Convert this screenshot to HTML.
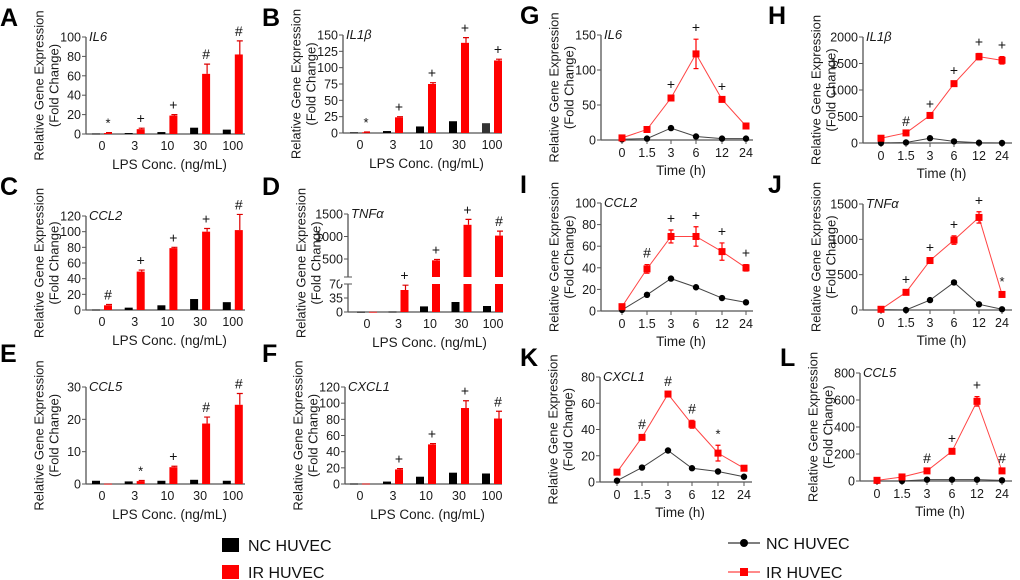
<!DOCTYPE html>
<html><head><meta charset="utf-8"><style>
html,body{margin:0;padding:0;background:#fff;}
svg{display:block;font-family:"Liberation Sans",Arial,sans-serif;}
</style></head><body>
<svg id="fig" width="1020" height="580" viewBox="0 0 1020 580" xmlns="http://www.w3.org/2000/svg">
<g>
<rect x="222" y="538" width="17" height="14" fill="#000"/>
<text x="248" y="551" font-size="16" fill="#111">NC HUVEC</text>
<rect x="222" y="565" width="17" height="14" fill="#f00"/>
<text x="248" y="578" font-size="16" fill="#111">IR HUVEC</text>
</g>
<g>
<line x1="728" y1="543" x2="760" y2="543" stroke="#333" stroke-width="1.2"/>
<circle cx="744" cy="543" r="4" fill="#000"/>
<text x="766" y="549" font-size="16" fill="#111">NC HUVEC</text>
<line x1="728" y1="572" x2="760" y2="572" stroke="#f44" stroke-width="1.2"/>
<rect x="740" y="568" width="8" height="8" fill="#f00"/>
<text x="766" y="578" font-size="16" fill="#111">IR HUVEC</text>
</g>
</svg>
<script>
// ---- data ----
const concCats = ["0","3","10","30","100"];
const timeCats = ["0","1.5","3","6","12","24"];
const aNC=[0.5,1,2,6.5,4.5], aIR=[1,5,19,62,82], aErr=[0.5,1,1,10,14], aSig=["*","+","+","#","#"];
const bNC=[1,3,10,18,15], bIR=[1,24,75,138,111], bErr=[0.5,1,2,8,2], bSig=["*","+","+","+","+"];
const cNC=[0.5,3,6,14,10], cIR=[6,49,79,100,102], cErr=[1,2,1,4,20], cSig=["#","+","+","+","#"];
const dNC=[0.5,1,14,25,15], dIR=[0.5,55,470,1260,1020], dErr=[0,12,20,120,100], dSig=["","+","+","+","#"];
const eNC=[1,0.8,1,1.3,1], eIR=[0.1,0.9,5.2,18.7,24.5], eErr=[0,0.2,0.3,2,3.5], eSig=["","*","+","#","#"];
const fNC=[0.5,3,9,14,13], fIR=[0.5,18,49,94,81], fErr=[0,1,1,9,9], fSig=["","+","+","+","#"];
const gNC=[1,2,17,5,2,2], gIR=[3,15,60,123,58,20], gErr=[0,0,3,21,2,1], gSig=["","","+","+","+",""];
const hNC=[0,10,90,30,5,0], hIR=[90,190,520,1120,1630,1560], hErr=[0,0,0,30,60,70], hSig=["","#","+","+","+","+"];
const iNC=[1,15,30,22,12,8], iIR=[4,39,69,69,55,40], iErr=[1,4,6,9,8,3], iSig=["","#","+","+","+","+"];
const jNC=[5,0,140,390,80,10], jIR=[10,250,700,990,1310,220], jErr=[0,20,20,60,80,20], jSig=["","+","+","+","+","*"];
const kNC=[1,11,24,10.5,8,4], kIR=[7.5,34,67,44,22,10.5], kErr=[0,1,1,3,6,1], kSig=["","#","#","#","*",""];
const lNC=[0,0,10,10,10,5], lIR=[5,30,75,220,590,75], lErr=[0,5,5,10,35,5], lSig=["","","#","+","+","#"];
const aTicks=[0,20,40,60,80,100], bTicks=[0,25,50,75,100,125,150], cTicks=[0,20,40,60,80,100,120];
const dTicksLow=[0,35,70], dTicksHigh=[500,1000,1500];
const eTicks=[0,10,20,30], fTicks=[0,20,40,60,80,100,120];
const gTicks=[0,50,100,150], hTicks=[0,500,1000,1500,2000], iTicks=[0,20,40,60,80,100];
const jTicks=[0,500,1000,1500], kTicks=[0,20,40,60,80], lTicks=[0,200,400,600,800];

const NS="http://www.w3.org/2000/svg";
const svg=document.getElementById('fig');
function mk(tag,attrs,parent){const e=document.createElementNS(NS,tag);for(const k in attrs)e.setAttribute(k,attrs[k]);(parent||svg).appendChild(e);return e;}
function txt(x,y,s,size,anchor,parent,extra){const t=mk('text',Object.assign({x:x,y:y,'font-size':size,'text-anchor':anchor,fill:'#1a1a1a'},extra||{}),parent);t.textContent=s;return t;}

function frame(p,g){
  const L=txt(p.lx,p.ly,p.letter,25,'start',g,{'font-weight':'bold',fill:'#000'});
  
  
  const ya=mk('line',{x1:p.ax,y1:p.yTop,x2:p.ax,y2:p.y0,stroke:'#555','stroke-width':1.3},g);
  
  
  const xa=mk('line',{x1:p.ax,y1:p.y0,x2:p.xEnd,y2:p.y0,stroke:'#555','stroke-width':1.3},g);
  
  
  const cy=(p.yTop+p.y0)/2;
  const t1=txt(p.ax-46,cy,'Relative Gene Expression',13,'middle',g,{transform:`rotate(-90 ${p.ax-46} ${cy})`,'dominant-baseline':'middle'});
  
  
  const t2=txt(p.ax-31,cy,'(Fold Change)',13,'middle',g,{transform:`rotate(-90 ${p.ax-31} ${cy})`,'dominant-baseline':'middle'});
  
  
  const gn=txt(p.ax+3,p.yTop+4,p.gene,13,'start',g,{'font-style':'italic'});
  
  
  const xt=txt((p.ax+p.xEnd)/2+4,p.y0+35,p.xlabel,13.5,'middle',g);
  
  
}
function yTicks(p,g,ticks,ys){
  ticks.forEach(v=>{const y=ys(v);
    const tk=mk('line',{x1:p.ax-4,y1:y,x2:p.ax,y2:y,stroke:'#555'},g);
    
    
    const tl=txt(p.ax-5,y+4.5,String(v),12.5,'end',g);
    
    });
}
function errBar(x,yv,ye,col,g,cap){
  const e=mk('path',{d:`M${x},${yv}V${ye}M${x-cap},${ye}H${x+cap}`,stroke:col,'stroke-width':1.2,fill:'none'},g);
  
  
}
function sig(x,y,s,g){ if(!s)return; const t=txt(x,y,s,s==='*'?13:14,'middle',g,{fill:'#111'});
  
  }

function barPanel(p,nc,ir,err,sg,ticks,ys,clipFn){
  const g=mk('g',{});
  
  
  frame(p,g);
  yTicks(p,g,ticks,ys);
  concCats.forEach((c,i)=>{
    const cx=p.x0+i*p.dx;
    const xl=txt(cx,p.y0+16,c,12.5,'middle',g);
    
    
    const drawBar=(v,x,col,name)=>{
      const segs=clipFn?clipFn(v):[[ys(v),p.y0]];
      segs.forEach(s=>{const r=mk('rect',{x:x-4,y:s[0],width:8,height:Math.max(0.8,s[1]-s[0]),fill:col},g);
        
        });
    };
    drawBar(nc[i],cx-6,p.letter==='B'&&i===4?'#333':'#000','bar-nc-'+c);
    drawBar(ir[i],cx+6,'#f00','bar-ir-'+c);
    const top=ys(ir[i]+err[i]);
    if(err[i]>0)errBar(cx+7,ys(ir[i]),top,'#d00',g,3);
    sig(cx+6,top-5,sg[i],g);
  });
}
function linePanel(p,nc,ir,err,sg,ticks,ys){
  const g=mk('g',{});
  
  
  frame(p,g);
  yTicks(p,g,ticks,ys);
  const xs=i=>p.xs[i];
  timeCats.forEach((c,i)=>{
    const tk=mk('line',{x1:xs(i),y1:p.y0,x2:xs(i),y2:p.y0+4,stroke:'#555'},g);
    
    
    const xl=txt(xs(i),p.y0+17,c,12.5,'middle',g);
    
    });
  const ln=mk('polyline',{points:nc.map((v,i)=>xs(i)+','+ys(v)).join(' '),fill:'none',stroke:'#444','stroke-width':1},g);
  
  
  const lr=mk('polyline',{points:ir.map((v,i)=>xs(i)+','+ys(v)).join(' '),fill:'none',stroke:'#f44','stroke-width':1},g);
  
  
  nc.forEach((v,i)=>{const c=mk('circle',{cx:xs(i),cy:ys(v),r:3.2,fill:'#000'},g);
    
    });
  ir.forEach((v,i)=>{
    if(err[i]>0){errBar(xs(i),ys(v-err[i]),ys(v+err[i]),'#f00',g,2.5);
      mk('path',{d:`M${xs(i)-2.5},${ys(v-err[i])}H${xs(i)+2.5}`,stroke:'#f00','stroke-width':1.2},g);}
    const r=mk('rect',{x:xs(i)-3.5,y:ys(v)-3.5,width:7,height:7,fill:'#f00'},g);
    
    
    sig(xs(i),ys(v+err[i])-7,sg[i],g);
  });
}
function lin(y0,yTop,max){return v=>y0-(v/max)*(y0-yTop);}

const A={letter:'A',lx:0,ly:26,gene:'IL6',ax:86,yTop:37,y0:134,xEnd:245,x0:102,dx:32.7,xlabel:'LPS Conc. (ng/mL)'};
barPanel(A,aNC,aIR,aErr,aSig,aTicks,lin(134,37,100));
const B={letter:'B',lx:262,ly:26,gene:'IL1\u03B2',ax:343,yTop:35,y0:133,xEnd:502,x0:360,dx:33,xlabel:'LPS Conc. (ng/mL)'};
barPanel(B,bNC,bIR,bErr,bSig,bTicks,lin(133,35,150));
const C={letter:'C',lx:0,ly:195,gene:'CCL2',ax:86,yTop:216,y0:310,xEnd:245,x0:102,dx:32.7,xlabel:'LPS Conc. (ng/mL)'};
barPanel(C,cNC,cIR,cErr,cSig,cTicks,lin(310,216,120));
const D={letter:'D',lx:262,ly:195,gene:'TNF\u03B1',ax:348,yTop:214,y0:312,xEnd:503,x0:367,dx:31.5,xlabel:'LPS Conc. (ng/mL)'};
const dYs=v=>v<=70?312-v*0.4:259-(v-500)*0.045;
barPanel(D,dNC,dIR,dErr,dSig,dTicksLow.concat(dTicksHigh),dYs,
  v=>v<=70?[[312-v*0.4,312]]:[[Math.min(dYs(v),277),277],[284,312]]);
mk('rect',{x:340,y:277,width:14,height:7,fill:'#fff'});
mk('path',{d:'M344,277H352M344,284H352',stroke:'#555','stroke-width':1});
const E={letter:'E',lx:0,ly:362,gene:'CCL5',ax:86,yTop:387,y0:484,xEnd:245,x0:102,dx:32.7,xlabel:'LPS Conc. (ng/mL)'};
barPanel(E,eNC,eIR,eErr,eSig,eTicks,lin(484,387,30));
const F={letter:'F',lx:262,ly:362,gene:'CXCL1',ax:345,yTop:387,y0:484,xEnd:502,x0:360,dx:33,xlabel:'LPS Conc. (ng/mL)'};
barPanel(F,fNC,fIR,fErr,fSig,fTicks,lin(484,387,120));

const gx=[622,647,671,696,722,746], hx=[881,906,930,954,979,1002];
const G={letter:'G',lx:520,ly:24,gene:'IL6',ax:601,yTop:35,y0:140,xEnd:753,xs:gx,xlabel:'Time (h)'};
linePanel(G,gNC,gIR,gErr,gSig,gTicks,lin(140,35,150));
const H={letter:'H',lx:768,ly:24,gene:'IL1\u03B2',ax:863,yTop:37,y0:143,xEnd:1012,xs:hx,xlabel:'Time (h)'};
linePanel(H,hNC,hIR,hErr,hSig,hTicks,lin(143,37,2000));
const I={letter:'I',lx:520,ly:193,gene:'CCL2',ax:601,yTop:203,y0:311,xEnd:753,xs:gx,xlabel:'Time (h)'};
linePanel(I,iNC,iIR,iErr,iSig,iTicks,lin(311,203,100));
const J={letter:'J',lx:768,ly:193,gene:'TNF\u03B1',ax:863,yTop:204,y0:310,xEnd:1012,xs:hx,xlabel:'Time (h)'};
linePanel(J,jNC,jIR,jErr,jSig,jTicks,lin(310,204,1500));
const K={letter:'K',lx:520,ly:366,gene:'CXCL1',ax:600,yTop:377,y0:482,xEnd:752,xs:[617,642,668,692,718,744],xlabel:'Time (h)'};
linePanel(K,kNC,kIR,kErr,kSig,kTicks,lin(482,377,80));
const Lp={letter:'L',lx:780,ly:366,gene:'CCL5',ax:860,yTop:373,y0:481,xEnd:1012,xs:[877,902,927,952,977,1002],xlabel:'Time (h)'};
linePanel(Lp,lNC,lIR,lErr,lSig,lTicks,lin(481,373,800));
</script>
</body></html>
